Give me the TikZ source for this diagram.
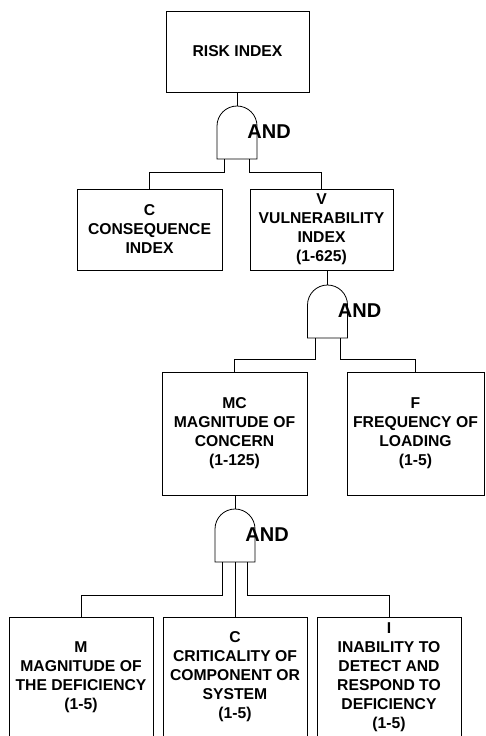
\documentclass[tikz,border=0pt]{standalone}
\usepackage{fontspec}
\setmainfont{Liberation Sans}
\usepackage{tikz}

\tikzset{
  blocco/.style={draw, line width=0.8pt, align=center, inner sep=0pt,
    font={\fontsize{15.7}{19}\selectfont\bfseries}},
  etichetta/.style={inner sep=0pt, anchor=west, font={\fontsize{20}{24}\selectfont\bfseries}},
  portaand/.pic={
    \draw[line width=0.8pt] (-20,-53) -- (-20,-20) arc (180:0:20) -- (20,-53) -- cycle;
    \coordinate (-top) at (0,0);
    \coordinate (-l) at (-12.5,-53);
    \coordinate (-m) at (0,-53);
    \coordinate (-r) at (12.5,-53);
    \node[etichetta] (-lbl) at (10,-26) {AND};
  }
}

\begin{document}
\begin{tikzpicture}[x=1pt, y=1pt, line width=0.8pt]
            \useasboundingbox (0,0) rectangle (486,-736);

            % Evento principale
            \node[blocco, minimum width=143pt, minimum height=81pt] (risk) at (237.5,-51.5) {RISK INDEX};
            \pic (g1) at (237,-106) {portaand};

            % Primo livello
            \node[blocco, minimum width=145pt, minimum height=81pt] (cons) at (149.5,-229.5) {C\\CONSEQUENCE\\INDEX};
            \node[blocco, minimum width=143pt, minimum height=81pt] (vuln) at (321.5,-229.5) {V\\VULNERABILITY\\INDEX\\(1-625)};
            \pic (g2) at (327.5,-285) {portaand};

            % Secondo livello
            \node[blocco, minimum width=145pt, minimum height=123pt] (mc) at (234.5,-433.5) {MC\\MAGNITUDE OF\\CONCERN\\(1-125)};
            \node[blocco, minimum width=137pt, minimum height=123pt] (freq) at (415.5,-433.5) {F\\FREQUENCY OF\\LOADING\\(1-5)};
            \pic (g3) at (235,-509) {portaand};

            % Terzo livello
            \node[blocco, minimum width=144pt, minimum height=120pt] (mag) at (81,-677) {M\\MAGNITUDE OF\\THE DEFICIENCY\\(1-5)};
            \node[blocco, minimum width=144pt, minimum height=120pt] (crit) at (235,-677) {C\\CRITICALITY OF\\COMPONENT OR\\SYSTEM\\(1-5)};
            \node[blocco, minimum width=144pt, minimum height=120pt] (inab) at (389,-677) {I\\INABILITY TO\\DETECT AND\\RESPOND TO\\DEFICIENCY\\(1-5)};

            % Collegamenti
            \draw (g1-top |- risk.south) -- (g1-top);
            \draw (g1-l) |- ([yshift=16pt]cons.north) -- (cons.north);
            \draw (g1-r) |- ([yshift=16pt]vuln.north) -- (vuln.north);

            \draw (g2-top |- vuln.south) -- (g2-top);
            \draw (g2-l) |- ([yshift=12pt]mc.north) -- (mc.north);
            \draw (g2-r) |- ([yshift=12pt]freq.north) -- (freq.north);

            \draw (g3-top |- mc.south) -- (g3-top);
            \draw (g3-l) |- ([yshift=21pt]mag.north) -- (mag.north);
            \draw (g3-m) -- (crit.north);
            \draw (g3-r) |- ([yshift=21pt]inab.north) -- (inab.north);
        \end{tikzpicture}
\end{document}
